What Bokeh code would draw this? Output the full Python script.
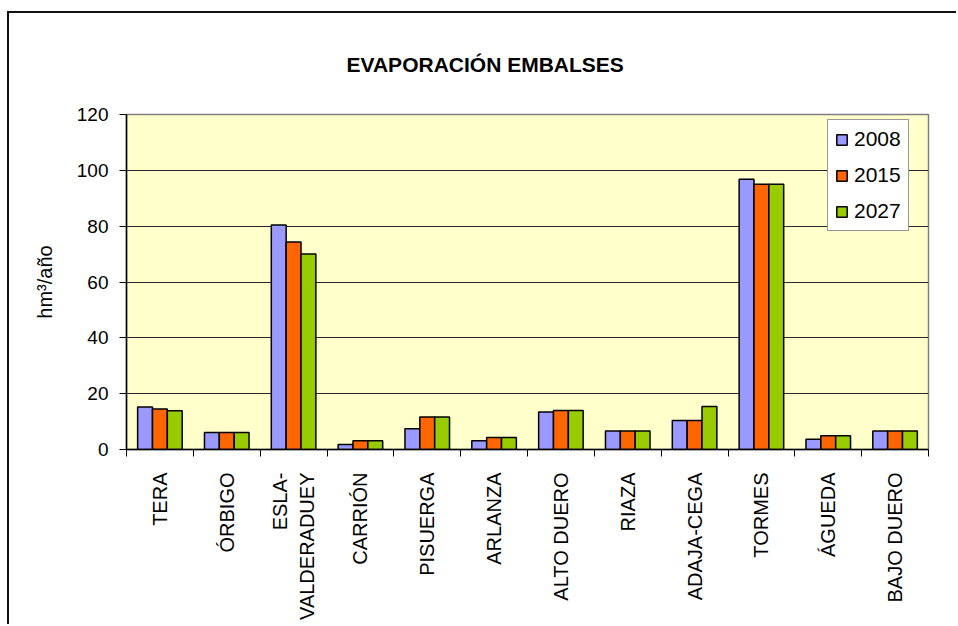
from math import pi
import numpy as np
from bokeh.plotting import figure
from bokeh.models import ColumnDataSource, FixedTicker, Legend, LegendItem, Range1d
from bokeh.embed import file_html
from bokeh.resources import INLINE

title_text = "EVAPORACIÓN EMBALSES"
categories = ["TERA", "ÓRBIGO", "ESLA-\nVALDERADUEY", "CARRIÓN", "PISUERGA", "ARLANZA",
              "ALTO DUERO", "RIAZA", "ADAJA-CEGA", "TORMES", "ÁGUEDA", "BAJO DUERO"]
v2008 = [15.2, 6.1, 80.4, 1.8, 7.4, 3.1, 13.4, 6.6, 10.4, 96.8, 3.7, 6.6]
v2015 = [14.5, 6.1, 74.3, 3.1, 11.6, 4.3, 14.0, 6.6, 10.4, 95.0, 4.9, 6.6]
v2027 = [13.9, 6.1, 70.0, 3.1, 11.6, 4.3, 14.0, 6.6, 15.4, 95.0, 4.9, 6.6]
series = ["2008", "2015", "2027"]
colors = ["#9999FF", "#FF6600", "#99CC00"]
y_ticks = [0, 20, 40, 60, 80, 100, 120]

FONT = "Liberation Sans"
n = len(categories)
centers = np.arange(n) + 0.5
bar_w = 1 / 4.5

p = figure(width=949, height=613, output_backend="svg", toolbar_location=None,
           x_range=Range1d(0, n), y_range=Range1d(0, 120),
           min_border_left=117, min_border_top=101, min_border_right=30, min_border_bottom=177,
           title=title_text,
           styles={"margin-left": "7px", "margin-top": "11px",
                   "border-left": "2px solid #111", "border-top": "2px solid #111"})

p.background_fill_color = "#FFFFCC"
p.border_fill_color = "white"
p.outline_line_color = "#808080"
p.outline_line_width = 1.5

p.title.text_font = FONT
p.title.text_font_size = "21px"
p.title.text_font_style = "bold"
p.title.text_color = "black"
p.title.align = "left"
p.title.offset = 220
p.title.vertical_align = "top"
p.title.standoff = 74

source = ColumnDataSource(dict(x=centers, v2008=v2008, v2015=v2015, v2027=v2027))
items = []
for i, (s, c) in enumerate(zip(series, colors)):
    source.data["x" + s] = centers + (i - 1) * bar_w
    r = p.vbar(x="x" + s, top="v" + s, width=bar_w, bottom=0, source=source,
               fill_color=c, line_color="black", line_width=1.5)
    items.append(LegendItem(label=s, renderers=[r]))

# x axis
xa = p.below[0]
xa.ticker = FixedTicker(ticks=list(centers), minor_ticks=list(range(n + 1)))
xa.major_label_overrides = {float(c): lab for c, lab in zip(centers, categories)}
xa.major_label_orientation = pi / 2
xa.major_tick_line_color = None
xa.major_tick_out = 0
xa.major_tick_in = 0
xa.minor_tick_out = 7
xa.minor_tick_in = 0
xa.minor_tick_line_color = "black"
xa.major_label_standoff = 16
xa.major_label_text_font = FONT
xa.major_label_text_font_size = "20px"
xa.major_label_text_color = "black"
xa.axis_line_color = "black"
xa.axis_line_width = 1.5

# y axis
ya = p.left[0]
ya.ticker = FixedTicker(ticks=y_ticks)
ya.major_tick_out = 7
ya.major_tick_in = 0
ya.minor_tick_line_color = None
ya.major_label_standoff = 11
ya.major_label_text_font = FONT
ya.major_label_text_font_size = "19px"
ya.major_label_text_color = "black"
ya.axis_line_color = "black"
ya.axis_line_width = 1.5
ya.major_tick_line_color = "black"
ya.axis_label = "hm³/año"
ya.axis_label_text_font = FONT
ya.axis_label_text_font_size = "20px"
ya.axis_label_text_font_style = "normal"
ya.axis_label_text_color = "black"
ya.axis_label_standoff = 18

p.xgrid.grid_line_color = None
p.ygrid.grid_line_color = "#2a2a2a"
p.ygrid.grid_line_width = 1.2

legend = Legend(items=items, location=(701, 218), margin=0, padding=7, spacing=12,
                label_height=22, glyph_width=13, glyph_height=13, label_standoff=6,
                label_text_font=FONT, label_text_font_size="21px", label_text_color="black",
                background_fill_color="white", background_fill_alpha=1,
                border_line_color="#333333", border_line_width=1)
p.add_layout(legend)

open("out.html", "w").write(file_html(p, INLINE))
